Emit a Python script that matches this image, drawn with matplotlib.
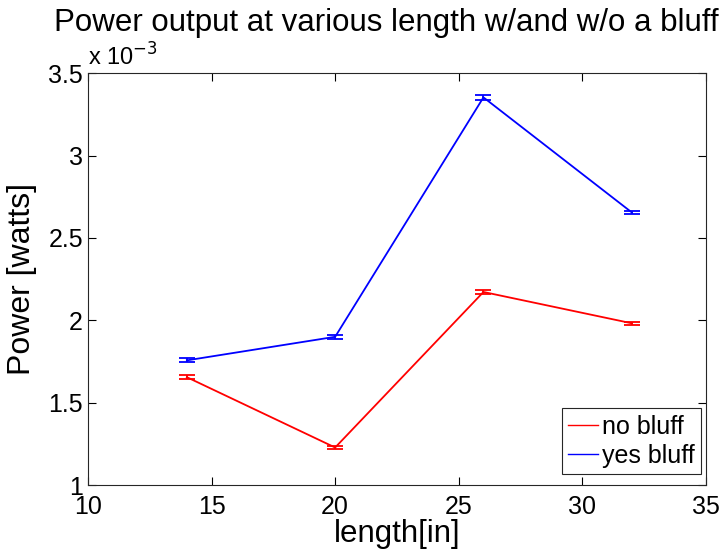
import matplotlib.pyplot as plt
from matplotlib.lines import Line2D

plt.rcParams['font.family'] = ['Liberation Sans', 'DejaVu Sans']

# Lengths tested [in]
lengths = [14, 20, 26, 32]

# Power output (units of 1e-3 W)
no_bluff = [1.655, 1.228, 2.172, 1.982]
no_bluff_err = [0.013, 0.010, 0.012, 0.010]
yes_bluff = [1.757, 1.900, 3.353, 2.655]
yes_bluff_err = [0.012, 0.011, 0.015, 0.011]

fig = plt.figure(figsize=(7.27, 5.5), dpi=100)
ax = fig.add_axes([0.121, 0.118, 0.850, 0.749])

ax.errorbar(lengths, no_bluff, yerr=no_bluff_err, color='#ff0000', lw=1.3,
            capsize=6, capthick=1.3, elinewidth=1.3)
ax.errorbar(lengths, yes_bluff, yerr=yes_bluff_err, color='#0000ff', lw=1.3,
            capsize=6, capthick=1.3, elinewidth=1.3)

ax.set_xlim(10, 35)
ax.set_ylim(1, 3.5)
ax.set_xticks([10, 15, 20, 25, 30, 35])
ax.set_yticks([1, 1.5, 2, 2.5, 3, 3.5])
ax.set_yticklabels(['1', '1.5', '2', '2.5', '3', '3.5'])
ax.tick_params(direction='in', top=True, right=True, labelsize=18, length=6)
ax.tick_params(axis='x', pad=7)
for s in ax.spines.values():
    s.set_linewidth(0.8)
    s.set_color('#262626')

ax.text(0.0, 1.005, r'x 10$^{-3}$', transform=ax.transAxes, fontsize=17,
        ha='left', va='bottom')

ax.set_xlabel('length[in]', fontsize=22.5, labelpad=0)
ax.set_ylabel('Power [watts]', fontsize=23, labelpad=8)
ax.set_title('Power output at various length w/and w/o a bluff', fontsize=22.5,
             pad=30, x=0.482)

handles = [Line2D([], [], color='#ff0000', lw=1),
           Line2D([], [], color='#0000ff', lw=1)]
leg = ax.legend(handles, ['no bluff', 'yes bluff'], loc='lower right',
                bbox_to_anchor=(0.992, 0.027), fontsize=18,
                fancybox=False, framealpha=1, edgecolor='#262626',
                handlelength=1.2, handletextpad=0.15, borderaxespad=0,
                borderpad=0.25, labelspacing=0.2)
leg.get_frame().set_linewidth(0.8)

fig.savefig('out.png', dpi=100)
